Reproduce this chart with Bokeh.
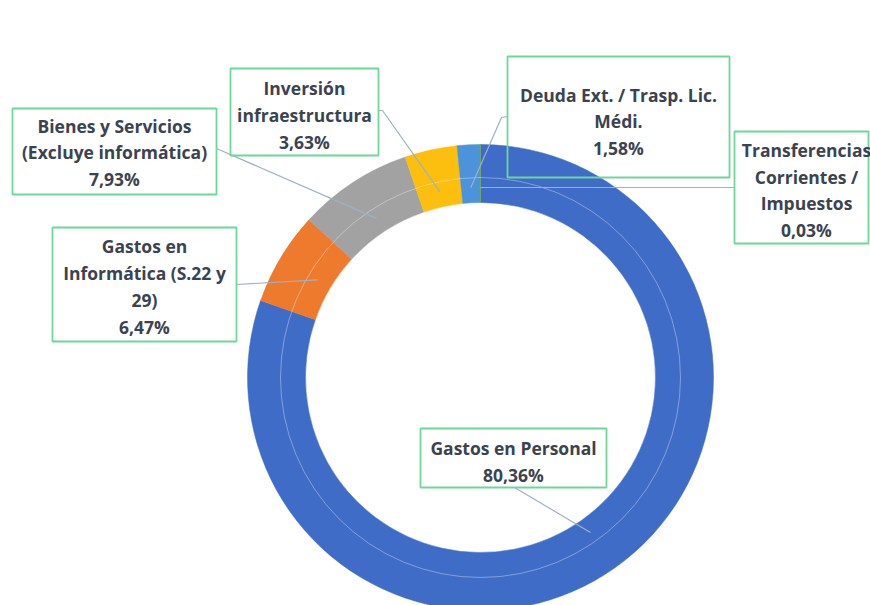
import math
from bokeh.plotting import figure
from bokeh.models import Range1d, ColumnDataSource
from bokeh.core.properties import value
from bokeh.embed import file_html
from bokeh.resources import INLINE

# ---- data ----
categories = ["Gastos en Personal", "Gastos en Informática (S.22 y 29)",
              "Bienes y Servicios (Excluye informática)", "Inversión infraestructura",
              "Deuda Ext. / Trasp. Lic. Médi.", "Transferencias Corrientes / Impuestos"]
shares = [80.36, 6.47, 7.93, 3.63, 1.58, 0.03]
label_lines = [["Gastos en Personal"],
               ["Gastos en", "Informática (S.22 y", "29)"],
               ["Bienes y Servicios", "(Excluye informática)"],
               ["Inversión", "infraestructura"],
               ["Deuda Ext. / Trasp. Lic.", "Médi."],
               ["Transferencias", "Corrientes /", "Impuestos"]]
colors = ["#3e6cc7", "#ee7b2d", "#a2a2a2", "#fcbf10", "#4b93da", "#70ad47"]

# ---- layout (pixel space, y measured from top) ----
W, H = 870, 605
CX, CY = 480, 377
R_OUT, R_IN, R_MID, R_ANCH = 233, 175, 200, 190
# label box: center x, center y, width, height ; text center
box_cx = [513, 144, 114, 304, 618, 801]
box_cy = [457.5, 284, 151, 111.5, 116.5, 187]
box_w = [186, 184, 204, 148, 222, 134]
box_h = [59, 114, 86, 87, 121, 112]
text_cx = [513, 144, 114, 304, 618, 806]
text_cy = [461, 286, 152, 114.5, 121, 189.5]
# where leader line leaves the box (px), optional elbow
lead_start = [[(514, 487)], [(236, 284)], [(216, 148)], [(378, 110), (382, 110)],
              [(507, 116), (501, 117)], [(734, 187)]]

def fy(y):
    return H - y

p = figure(width=W, height=H, x_range=Range1d(0, W), y_range=Range1d(0, H),
           output_backend="svg", toolbar_location=None,
           x_axis_type=None, y_axis_type=None, min_border=0)
p.grid.visible = False
p.outline_line_color = None
p.background_fill_color = "white"
p.border_fill_color = "white"

# wedges: clockwise from 12 o'clock
total = sum(shares)
starts, ends, mids = [], [], []
acc = 0.0
for v in shares:
    a0 = math.pi / 2 - 2 * math.pi * acc / total
    a1 = math.pi / 2 - 2 * math.pi * (acc + v) / total
    starts.append(a0)
    ends.append(a1)
    mids.append((a0 + a1) / 2)
    acc += v

src = ColumnDataSource(dict(x=[CX] * len(shares), y=[fy(CY)] * len(shares),
                            start=starts, end=ends, color=colors))
p.annular_wedge(x="x", y="y", inner_radius=R_IN, outer_radius=R_OUT,
                start_angle="start", end_angle="end", direction="clock",
                fill_color="color", line_color="color", line_width=0.5, source=src)

# faint inner ring line
p.circle(x=[CX], y=[fy(CY)], radius=R_MID, fill_color=None,
         line_color="white", line_alpha=0.35, line_width=1)

# leader lines
lead_col = "#9fb0c6"
for i in range(len(shares)):
    ax = CX + R_ANCH * math.cos(mids[i])
    ay = fy(CY) + R_ANCH * math.sin(mids[i])
    xs = [pt[0] for pt in lead_start[i]] + [ax]
    ys = [fy(pt[1]) for pt in lead_start[i]] + [ay]
    p.line(xs, ys, line_color=lead_col, line_width=1.2)

# label boxes
p.rect(x=box_cx, y=[fy(v) for v in box_cy], width=box_w, height=box_h,
       fill_color=None, line_color="#6fd69a", line_width=1.8)

# label texts
texts = []
for lines, v in zip(label_lines, shares):
    pct = f"{v:.2f}".replace(".", ",") + "%"
    texts.append("\n".join(lines + [pct]))
p.text(x=text_cx, y=[fy(v) for v in text_cy], text=texts,
       text_align="center", text_baseline="middle",
       text_font=value("Open Sans"), text_font_style="bold",
       text_font_size="17.5px", text_color="#3b4250", text_line_height=1.12)

open("out.html", "w").write(file_html(p, INLINE))
